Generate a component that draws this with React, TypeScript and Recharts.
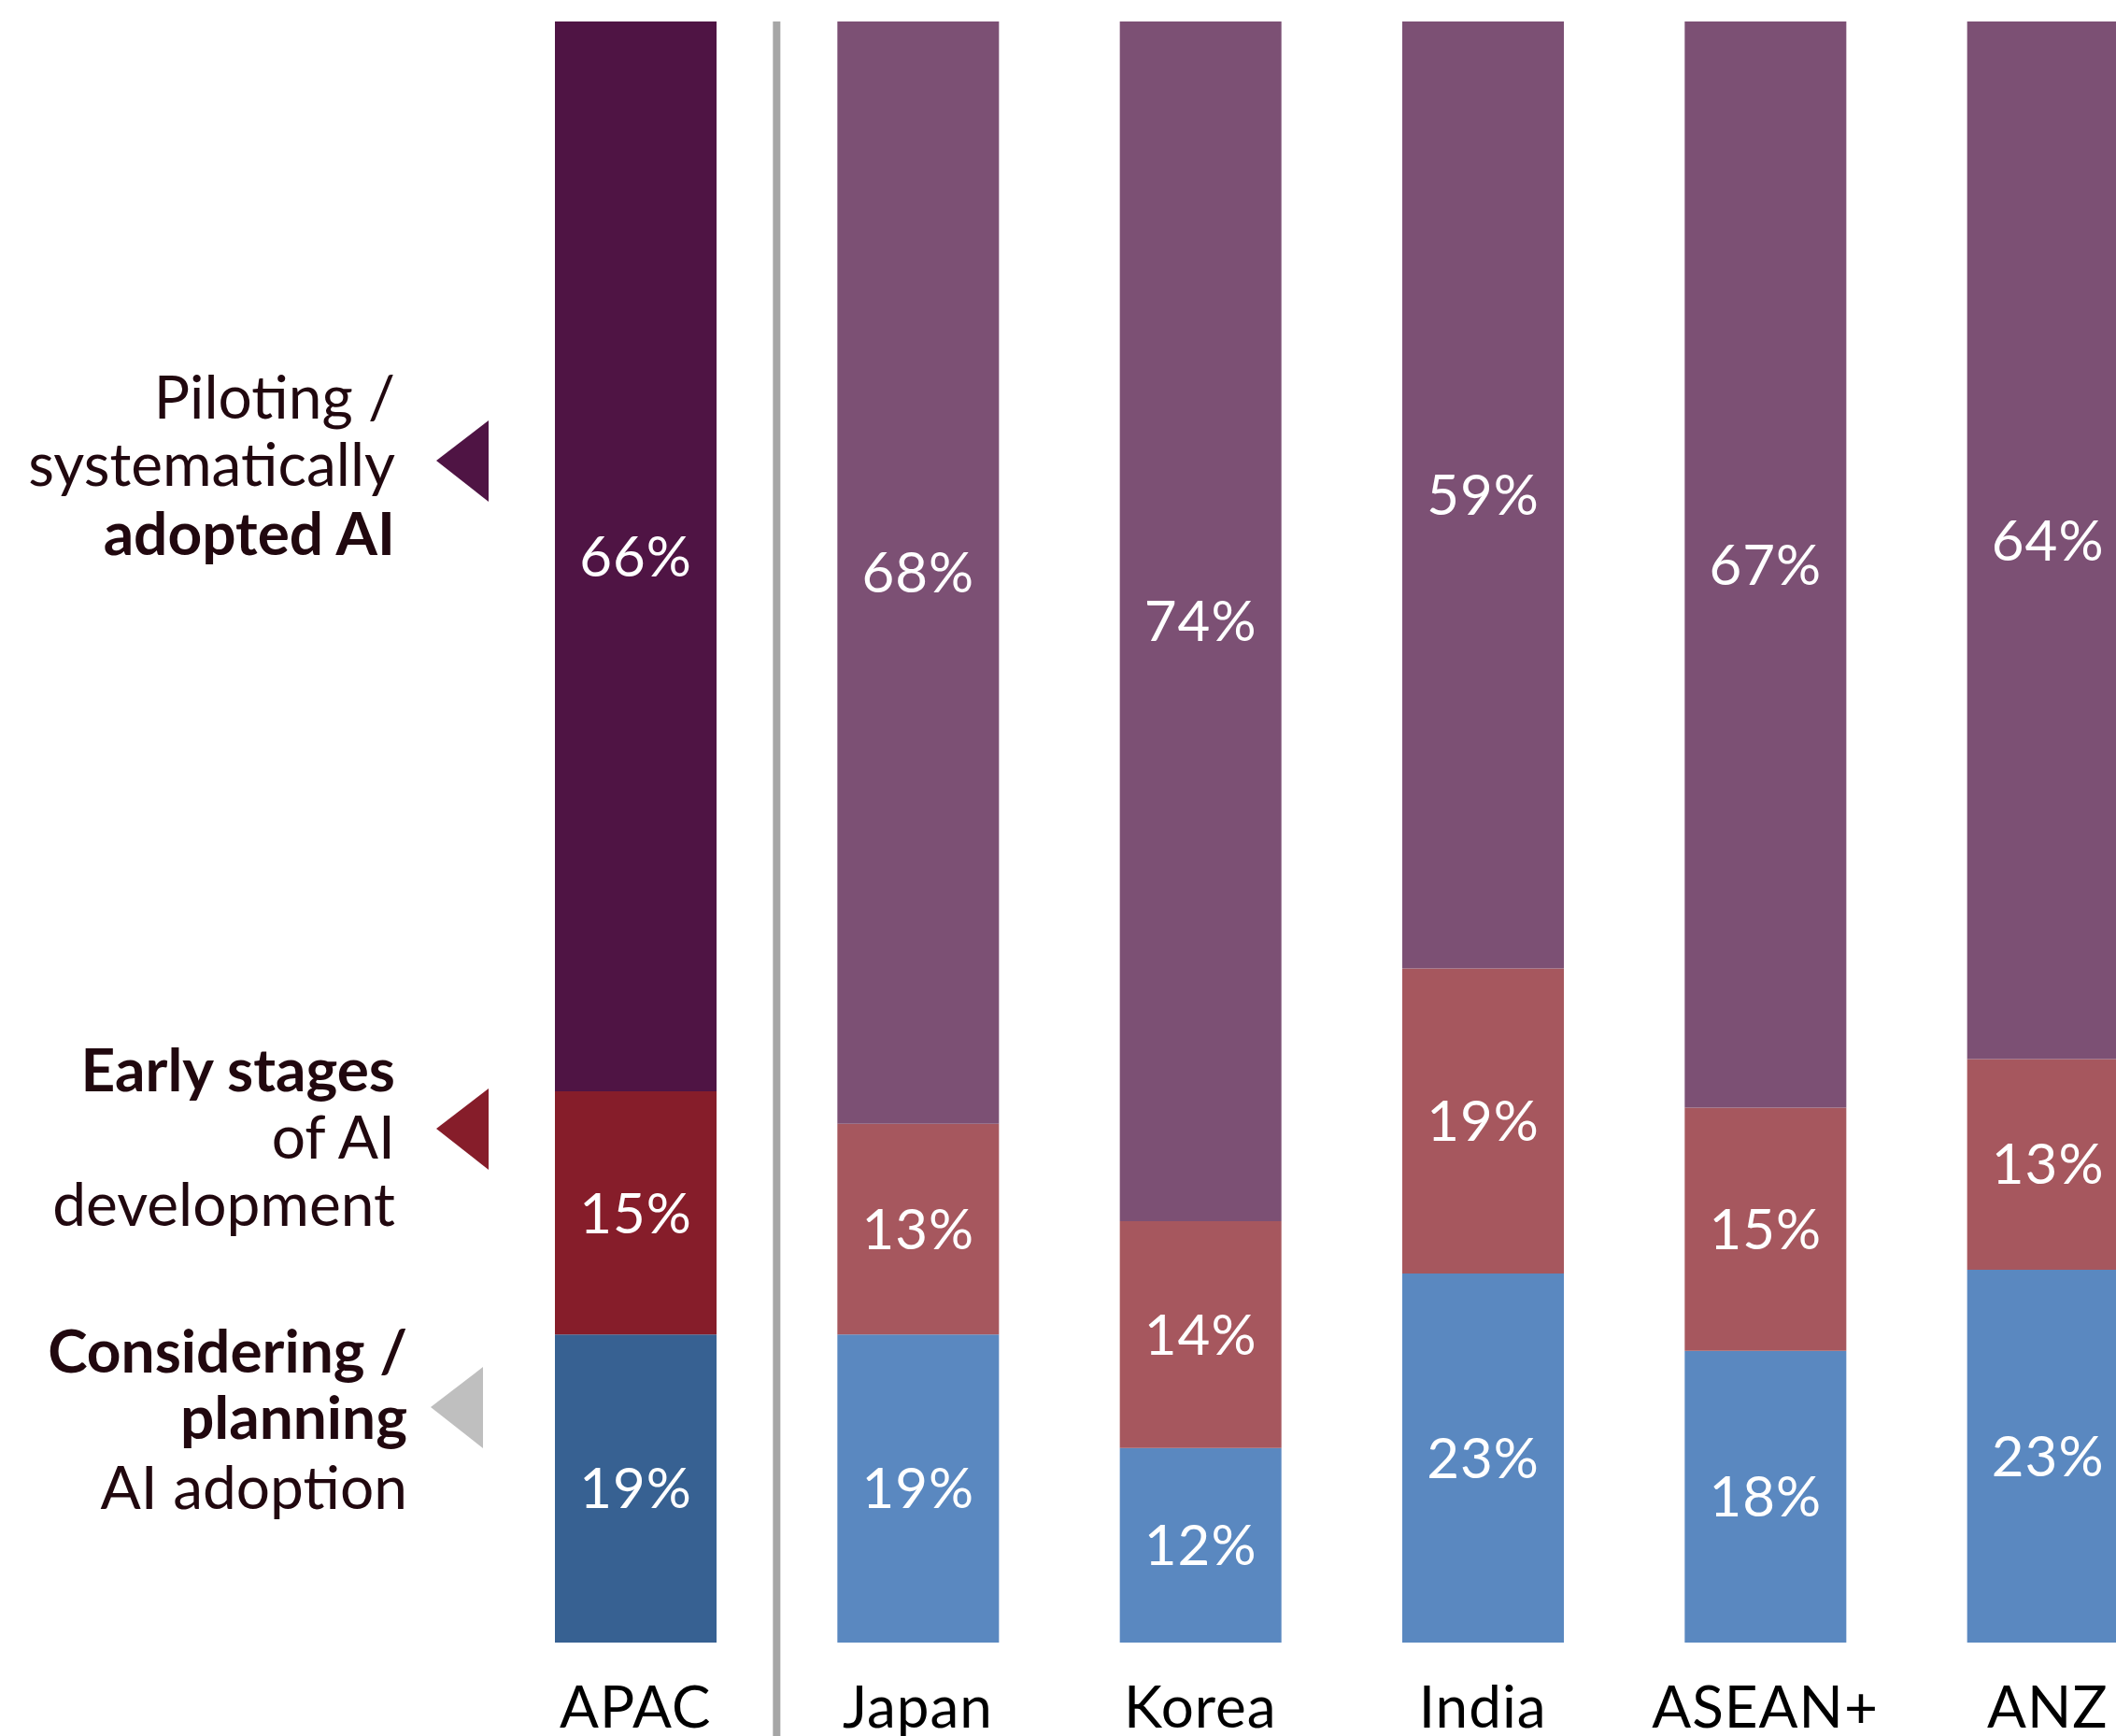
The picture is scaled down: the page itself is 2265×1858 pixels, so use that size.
import { BarChart, Bar, XAxis, YAxis, Cell, LabelList, ReferenceLine } from 'recharts';

const categories = ['APAC', 'Japan', 'Korea', 'India', 'ASEAN+', 'ANZ'];
const considering = [19, 19, 12, 23, 18, 23];
const early = [15, 13, 14, 19, 15, 13];
const piloting = [66, 68, 74, 59, 67, 64];

const rows = categories.map((name, i) => ({
  name,
  considering: considering[i],
  early: early[i],
  piloting: piloting[i],
}));

// APAC total is drawn darker than the individual markets
const apacFill = { considering: '#376192', early: '#861D2A', piloting: '#4F1444' };
const marketFill = { considering: '#5A88C0', early: '#A6575E', piloting: '#7C5074' };

const FONT = 'Lato, "Open Sans", sans-serif';
const INK = '#21080F';

const series: Array<keyof typeof apacFill> = ['considering', 'early', 'piloting'];

function CategoryTick({ x, y, payload }: any) {
  return (
    <text x={x} y={y + 83} textAnchor="middle" fontFamily={FONT} fontSize={62} fill="#000" letterSpacing={1}>
      {payload.value}
    </text>
  );
}

function SideLegend() {
  const line = (txt: string, x: number, y: number, bold = false) => (
    <text x={x} y={y} textAnchor="end" fontFamily={FONT} fontSize={64} fontWeight={bold ? 700 : 400} fill={INK}>
      {txt}
    </text>
  );
  return (
    <svg width={560} height={1858} style={{ position: 'absolute', left: 0, top: 0 }}>
      {line('Piloting /', 423, 448)}
      {line('systematically', 423, 520)}
      {line('adopted AI', 423, 594, true)}
      <polygon points="523,450 523,537 467,493" fill={apacFill.piloting} />

      {line('Early stages', 423, 1168, true)}
      {line('of AI', 423, 1240)}
      {line('development', 423, 1312)}
      <polygon points="523,1165 523,1252 467,1208" fill={apacFill.early} />

      {line('Considering /', 436, 1469, true)}
      {line('planning', 436, 1540, true)}
      {line('AI adoption', 436, 1615)}
      <polygon points="517,1463 517,1550 461,1506" fill="#BFBFBF" />
    </svg>
  );
}

export default function App() {
  return (
    <div style={{ position: 'absolute', left: 0, top: 0, width: 2265, height: 1858, overflow: 'hidden', background: '#fff' }}>
      <BarChart
        width={2343}
        height={1858}
        data={rows}
        stackOffset="expand"
        margin={{ top: 23, right: 0, left: 529, bottom: 0 }}
        barSize={173}
      >
        <XAxis dataKey="name" axisLine={false} tickLine={false} height={100} tick={<CategoryTick />} interval={0} />
        <YAxis hide />
        {series.map((key) => (
          <Bar key={key} dataKey={key} stackId="a" isAnimationActive={false}>
            {rows.map((r, i) => (
              <Cell key={r.name} fill={i === 0 ? apacFill[key] : marketFill[key]} />
            ))}
            <LabelList
              dataKey={key}
              position="center"
              formatter={(v: any) => `${v}%`}
              fill="#fff"
              fontFamily={FONT}
              fontSize={60}
              letterSpacing={1}
            />
          </Bar>
        ))}
        <ReferenceLine
          segment={[
            { x: 'APAC', y: -0.06 },
            { x: 'APAC', y: 1 },
          ]}
          position="end"
          ifOverflow="visible"
          stroke="#A6A6A6"
          strokeWidth={8}
        />
      </BarChart>
      <SideLegend />
    </div>
  );
}
